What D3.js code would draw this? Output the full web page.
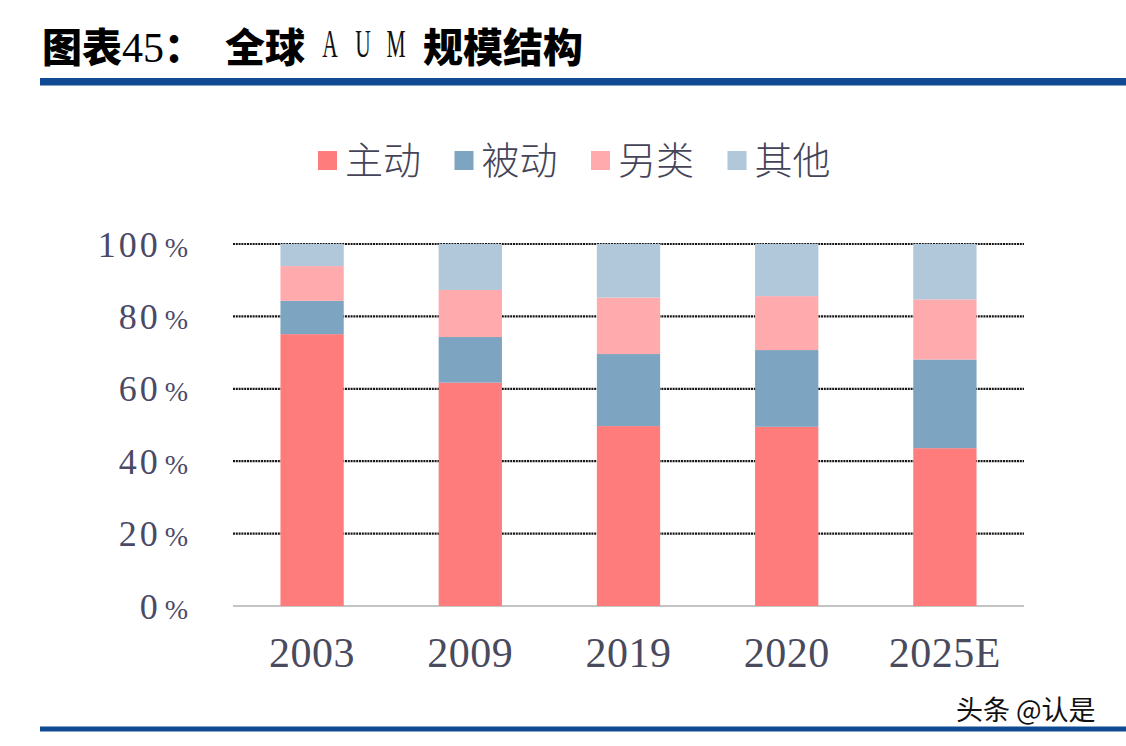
<!DOCTYPE html>
<html>
<head>
<meta charset="utf-8">
<script src="https://cdn.jsdelivr.net/npm/d3@7/dist/d3.min.js"></script>
<style>
  html, body { margin: 0; padding: 0; background: #ffffff; }
  svg { display: block; }
</style>
</head>
<body>
<svg id="chart" width="1126" height="746"></svg>
<script>
// ---- data ----
const categories = ["2003", "2009", "2019", "2020", "2025E"];
const seriesNames = ["主动", "被动", "另类", "其他"];
const activeValues  = [75.1, 61.7, 49.7, 49.5, 43.6];
const passiveValues = [9.2, 12.6, 19.9, 21.2, 24.5];
const altValues     = [9.6, 13.0, 15.6, 14.9, 16.6];
const otherValues   = [6.1, 12.7, 14.8, 14.4, 15.3];
const yTicks = [0, 20, 40, 60, 80, 100];
const seriesColors = ["#ff7c7c", "#7da4c0", "#ffabad", "#b0c8d9"];

const svg = d3.select("#chart");

// ---- header ----
const serif = "'Liberation Serif', 'DejaVu Serif', serif";
const cjk = "'Noto Sans CJK SC', sans-serif";
const title = svg.append("text").attr("y", 62).attr("fill", "#000");
title.append("tspan").attr("x", 42).attr("font-family", cjk).attr("font-weight", 900).attr("font-size", 40).text("图表");
title.append("tspan").attr("font-family", serif).attr("font-size", 42).text("45");
title.append("tspan").attr("font-family", cjk).attr("font-weight", 900).attr("font-size", 40).text("：");
title.append("tspan").attr("x", 225).attr("font-family", cjk).attr("font-weight", 900).attr("font-size", 40).text("全球");
title.append("tspan").attr("x", 423).attr("font-family", cjk).attr("font-weight", 900).attr("font-size", 40).text("规模结构");
["A", "U", "M"].forEach((ch, i) => {
  svg.append("text")
    .attr("transform", `translate(${330 + i * 33},57) scale(0.55,1)`)
    .attr("text-anchor", "middle")
    .attr("font-family", serif).attr("font-size", 39).attr("fill", "#111").text(ch);
});

svg.append("rect").attr("x", 40).attr("y", 78).attr("width", 1086).attr("height", 7.5).attr("fill", "#0f4a92");
svg.append("rect").attr("x", 40).attr("y", 726.5).attr("width", 1086).attr("height", 5).attr("fill", "#0f4a92");

// ---- scales ----
const x = d3.scaleBand().domain(categories).range([233, 1024]).paddingInner(0.6).paddingOuter(0.3);
const y = d3.scaleLinear().domain([0, 100]).range([606, 244]);

// ---- gridlines ----
svg.append("g").selectAll("line").data(yTicks.filter(t => t > 0)).join("line")
  .attr("x1", 233).attr("x2", 1024)
  .attr("y1", d => y(d)).attr("y2", d => y(d))
  .attr("stroke", "#151515").attr("stroke-width", 2.2).attr("stroke-dasharray", "2 0.8");
svg.append("line").attr("x1", 233).attr("x2", 1024).attr("y1", y(0)).attr("y2", y(0))
  .attr("stroke", "#b0b0b0").attr("stroke-width", 1.5);

// ---- stacked bars ----
const rows = categories.map((c, i) => ({
  cat: c, "主动": activeValues[i], "被动": passiveValues[i], "另类": altValues[i], "其他": otherValues[i]
}));
const stacked = d3.stack().keys(seriesNames)(rows);
svg.append("g").selectAll("g").data(stacked).join("g")
  .attr("fill", (d, i) => seriesColors[i])
  .selectAll("rect").data(d => d).join("rect")
  .attr("x", d => x(d.data.cat))
  .attr("width", x.bandwidth())
  .attr("y", d => y(d[1]))
  .attr("height", d => y(d[0]) - y(d[1]));

// ---- y axis labels ----
const yl = svg.append("g").selectAll("text").data(yTicks).join("text")
  .attr("x", 188).attr("y", d => y(d) + 12.5)
  .attr("text-anchor", "end").attr("fill", "#4a4a66").attr("font-family", serif);
yl.append("tspan").attr("font-size", 36).attr("letter-spacing", 3).text(d => d);
yl.append("tspan").attr("font-size", 28).attr("dx", 4).text("%");

// ---- x axis labels ----
svg.append("g").selectAll("text").data(categories).join("text")
  .attr("x", d => x(d) + x.bandwidth() / 2).attr("y", 667)
  .attr("text-anchor", "middle").attr("fill", "#4a4a5e")
  .attr("font-family", serif).attr("font-size", 42).attr("letter-spacing", 0.5)
  .text(d => d);

// ---- legend ----
const leg = svg.append("g").selectAll("g").data(seriesNames).join("g")
  .attr("transform", (d, i) => `translate(${318 + i * 136.5},0)`);
leg.append("rect").attr("x", 0).attr("y", 151).attr("width", 19).attr("height", 19)
  .attr("fill", (d, i) => seriesColors[i]);
leg.append("text").attr("x", 27).attr("y", 174).attr("fill", "#444458")
  .attr("font-family", cjk).attr("font-weight", 300).attr("font-size", 38).text(d => d);

// ---- watermark ----
svg.append("text").attr("x", 956).attr("y", 720)
  .attr("font-family", cjk).attr("font-size", 27).attr("fill", "#111")
  .attr("stroke", "#fff").attr("stroke-width", 1.5).attr("paint-order", "stroke")
  .text("头条 @认是");
</script>
</body>
</html>
